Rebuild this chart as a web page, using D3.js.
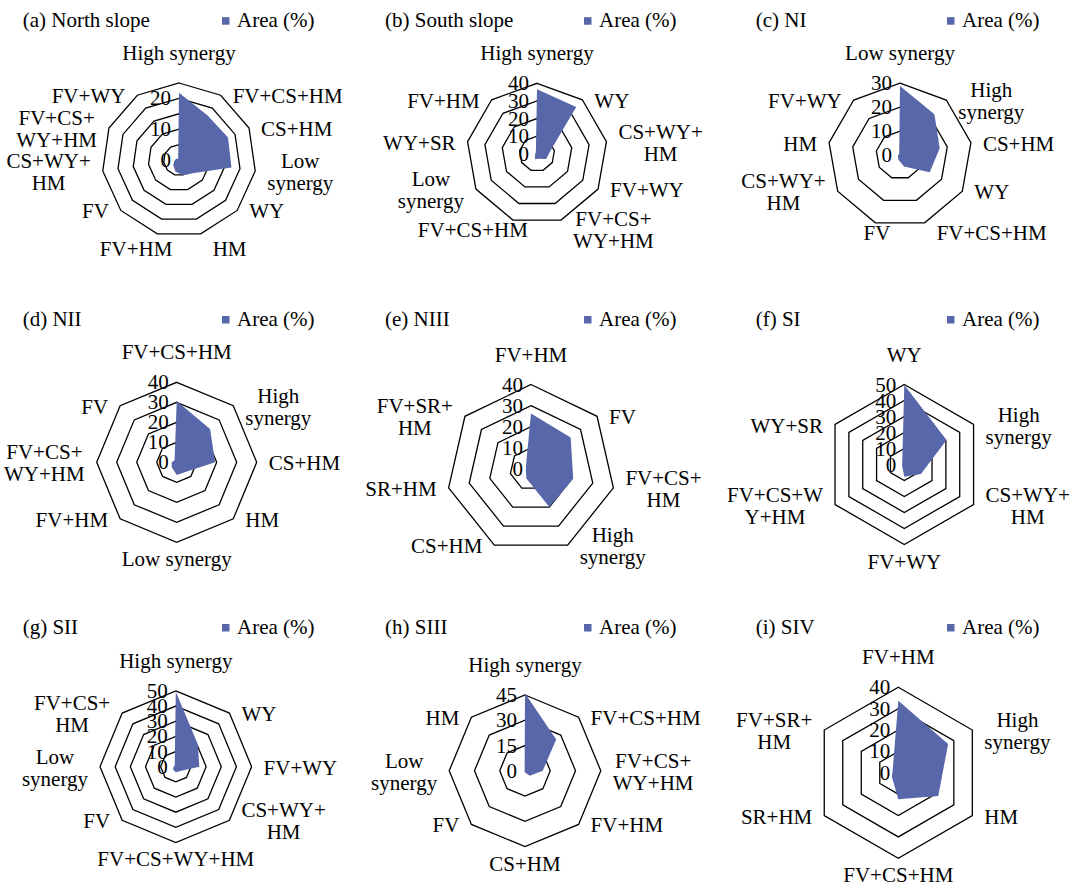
<!DOCTYPE html>
<html>
<head>
<meta charset="utf-8">
<script src="https://cdn.jsdelivr.net/npm/d3@7"></script>
<style>
  body { margin: 0; background: #fff; }
  svg text { font-family: "Liberation Serif", "Times New Roman", serif; font-size: 21px; fill: #000; }
</style>
</head>
<body>
<div id="chart"></div>
<script>
// ---- data (Area %) ----
var titles = ["(a) North slope", "(b) South slope", "(c) NI", "(d) NII", "(e) NIII",
              "(f) SI", "(g) SII", "(h) SIII", "(i) SIV"];
var legendText = "Area (%)";

var labelsA = ["High synergy", "FV+CS+HM", "CS+HM", "Low\nsynergy", "WY", "HM", "FV+HM", "FV",
               "CS+WY+\nHM", "FV+CS+\nWY+HM", "FV+WY"];
var areaA = [21.8, 17.2, 17.5, 17.2, 6.5, 5.2, 4, 2.5, 1.5, 1, 0.5];
var ringsA = [5, 10, 15, 20, 25];
var ticksA = [0, 10, 20];

var labelsB = ["High synergy", "WY", "CS+WY+\nHM", "FV+WY", "FV+CS+\nWY+HM", "FV+CS+HM",
               "Low\nsynergy", "WY+SR", "FV+HM"];
var areaB = [36.6, 34.6, 7.5, 6, 3, 3.3, 1.3, 1, 1];
var ringsB = [10, 20, 30, 40];
var ticksB = [0, 10, 20, 30, 40];

var labelsC = ["Low synergy", "High\nsynergy", "CS+HM", "WY", "FV+CS+HM", "FV", "CS+WY+\nHM",
               "HM", "FV+WY"];
var areaC = [28.8, 22.3, 16.8, 14.3, 5, 2, 1, 0.8, 0.5];
var ringsC = [10, 20, 30];
var ticksC = [0, 10, 20, 30];

var labelsD = ["FV+CS+HM", "High\nsynergy", "CS+HM", "HM", "Low synergy", "FV+HM",
               "FV+CS+\nWY+HM", "FV"];
var areaD = [30.7, 23.6, 19.2, 6.7, 6.3, 3.5, 2.5, 1.5];
var ringsD = [10, 20, 30, 40];
var ticksD = [0, 10, 20, 30, 40];

var labelsE = ["FV+HM", "FV", "FV+CS+\nHM", "High\nsynergy", "CS+HM", "SR+HM", "FV+SR+\nHM"];
var areaE = [26.3, 24, 20.5, 20, 5, 2.5, 3];
var ringsE = [10, 20, 30, 40];
var ticksE = [0, 10, 20, 30, 40];

var labelsF = ["WY", "High\nsynergy", "CS+WY+\nHM", "FV+WY", "FV+CS+W\nY+HM", "WY+SR"];
var areaF = [49.7, 30.5, 12, 7.6, 1.6, 1.5];
var ringsF = [10, 20, 30, 40, 50];
var ticksF = [0, 10, 20, 30, 40, 50];

var labelsG = ["High synergy", "WY", "FV+WY", "CS+WY+\nHM", "FV+CS+WY+HM", "FV",
               "Low\nsynergy", "FV+CS+\nHM"];
var areaG = [49.5, 20.6, 15.5, 4, 3.7, 2.5, 1.5, 1];
var ringsG = [10, 20, 30, 40, 50];
var ticksG = [0, 10, 20, 30, 40, 50];

var labelsH = ["High synergy", "FV+CS+HM", "FV+CS+\nWY+HM", "FV+HM", "CS+HM", "FV",
               "Low\nsynergy", "HM"];
var areaH = [46, 26.2, 10.5, 4.1, 1, 0.5, 0.3, 0.3];
var ringsH = [15, 30, 45];
var ticksH = [0, 15, 30, 45];

var labelsI = ["FV+HM", "High\nsynergy", "HM", "FV+CS+HM", "SR+HM", "FV+SR+\nHM"];
var areaI = [33.7, 26.9, 21.6, 12.4, 3.5, 3];
var ringsI = [10, 20, 30, 40];
var ticksI = [0, 10, 20, 30, 40];

var panels = [
  {labels: labelsA, values: areaA, rings: ringsA, ticks: ticksA},
  {labels: labelsB, values: areaB, rings: ringsB, ticks: ticksB},
  {labels: labelsC, values: areaC, rings: ringsC, ticks: ticksC},
  {labels: labelsD, values: areaD, rings: ringsD, ticks: ticksD},
  {labels: labelsE, values: areaE, rings: ringsE, ticks: ticksE},
  {labels: labelsF, values: areaF, rings: ringsF, ticks: ticksF},
  {labels: labelsG, values: areaG, rings: ringsG, ticks: ticksG},
  {labels: labelsH, values: areaH, rings: ringsH, ticks: ticksH},
  {labels: labelsI, values: areaI, rings: ringsI, ticks: ticksI}
];

// ---- layout (pixels) ----
var colTitleX = [22.7, 385, 755.7];
var colLegendX = [222, 584, 947];
var rowBase = [26.7, 325.5, 633.5];
var plotBox = [
  {cx: 179, cy: 160, r: 77}, {cx: 537, cy: 153.8, r: 70.5}, {cx: 900, cy: 155.2, r: 72},
  {cx: 176.7, cy: 462.3, r: 80}, {cx: 531, cy: 469, r: 84.5}, {cx: 904.3, cy: 464.5, r: 80},
  {cx: 175.8, cy: 766.7, r: 75.8}, {cx: 525, cy: 770.8, r: 75.8}, {cx: 898.3, cy: 772.8, r: 85.5}
];
var fillColor = "#5867a9";
var lineH = 22;
var gap = 12;

var svg = d3.select("#chart").append("svg")
    .attr("width", 1079)
    .attr("height", 886);

svg.append("rect").attr("width", 1079).attr("height", 886).attr("fill", "#fff");

panels.forEach(function(p, k) {
  var box = plotBox[k];
  var col = k % 3, row = Math.floor(k / 3);
  var n = p.labels.length;
  var maxV = d3.max(p.rings);

  // title + legend
  svg.append("text")
    .attr("x", colTitleX[col])
    .attr("y", rowBase[row])
    .text(titles[k]);
  svg.append("rect")
    .attr("x", colLegendX[col])
    .attr("y", rowBase[row] - 9.5)
    .attr("width", 7.5)
    .attr("height", 7.5)
    .attr("fill", fillColor);
  svg.append("text")
    .attr("x", colLegendX[col] + 15)
    .attr("y", rowBase[row])
    .text(legendText);

  var angle = function(i) { return i * 2 * Math.PI / n; };
  var rScale = d3.scaleLinear().domain([0, maxV]).range([0, box.r]);
  var radial = d3.lineRadial()
    .angle(function(d, i) { return angle(i); })
    .radius(function(d) { return rScale(d); })
    .curve(d3.curveLinearClosed);

  var g = svg.append("g")
    .attr("transform", "translate(" + box.cx + "," + box.cy + ")");

  // grid rings
  g.selectAll(".ring")
    .data(p.rings)
   .enter()
    .append("path")
    .attr("class", "ring")
    .attr("d", function(v) { return radial(d3.range(n).map(function() { return v; })); })
    .attr("fill", "none")
    .attr("stroke", "#000")
    .attr("stroke-width", 1.3)
    .attr("stroke-linejoin", "miter");

  // series
  g.append("path")
    .attr("d", radial(p.values))
    .attr("fill", fillColor);

  // value tick labels
  g.selectAll(".tick")
    .data(p.ticks)
   .enter()
    .append("text")
    .attr("class", "tick")
    .attr("text-anchor", "end")
    .attr("x", -8)
    .attr("y", function(v) { return -rScale(v) + 7; })
    .text(function(v) { return v; });

  // category labels, placed beside the outer ring vertex
  p.labels.forEach(function(lab, i) {
    var lines = lab.split("\n");
    var a = angle(i), s = Math.sin(a), c = Math.cos(a);
    var vx = s * box.r, vy = -c * box.r;
    var t = g.append("text").attr("text-anchor", "middle");
    lines.forEach(function(line) { t.append("tspan").text(line); });
    var w = d3.max(t.selectAll("tspan").nodes(), function(nd) { return nd.getComputedTextLength(); });
    var midX, firstBase;
    if (Math.abs(s) < 0.2) {
      midX = vx;
      firstBase = c > 0 ? vy - 23 - (lines.length - 1) * lineH : vy + 24;
    } else {
      var low = Math.max(0, Math.min(1, (-c - 0.9) / 0.06));
      var centerY = vy + 2 + 14 * low;
      if (s > 0) {
        midX = vx + gap + w / 2;
      } else if (low > 0.5) {
        // bottom-left labels sit closer under the vertex
        midX = vx + 15 - w / 2;
      } else {
        midX = vx - gap - w / 2;
      }
      firstBase = centerY - (lines.length - 1) * lineH / 2 + 6;
    }
    t.selectAll("tspan")
      .attr("x", midX)
      .attr("y", function(d, j) { return firstBase + j * lineH; });
  });
});
</script>
</body>
</html>
